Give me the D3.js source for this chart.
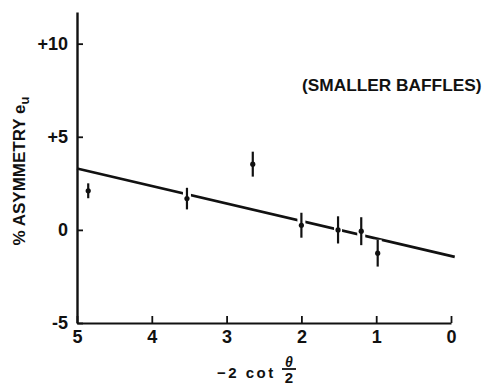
<!DOCTYPE html>
<html><head><meta charset="utf-8">
<script src="https://cdn.jsdelivr.net/npm/d3@7"></script>
<style>
html,body{margin:0;padding:0;background:#fff;}
svg{display:block;}
text{font-family:"Liberation Sans",Arial,sans-serif;fill:#111;}
</style></head>
<body>
<script>
// data
const xVals = [4.85, 3.53, 2.65, 2.0, 1.51, 1.2, 0.98];
const yVals = [2.1, 1.68, 3.53, 0.25, 0.0, -0.07, -1.25];
const yErr  = [0.4, 0.58, 0.67, 0.67, 0.73, 0.75, 0.72];
const fitX = [5, -0.05];
const fitY = [3.3, -1.45];
const xTicks = [5, 4, 3, 2, 1, 0];
const xTickLabels = ["5", "4", "3", "2", "1", "0"];
const yTicks = [10, 5, 0, -5];
const yTickLabels = ["+10", "+5", "0", "-5"];

const W = 484, H = 388;
const svg = d3.select("body").append("svg").attr("width", W).attr("height", H);
const x = d3.scaleLinear().domain([5, 0]).range([77, 451]);
const y = d3.scaleLinear().domain([-5, 11.7]).range([323, 12]);
const ink = "#111";

// fit line
const line = d3.line().x(d => x(d[0])).y(d => y(d[1]));
svg.append("path").datum(fitX.map((v, i) => [v, fitY[i]]))
  .attr("d", line).attr("fill", "none").attr("stroke", ink).attr("stroke-width", 2.6);

const pts = xVals.map((v, i) => ({x: v, y: yVals[i], e: yErr[i]}));
// white gaps behind error bars
svg.selectAll(".gap").data(pts).enter().append("line")
  .attr("x1", d => x(d.x)).attr("x2", d => x(d.x))
  .attr("y1", d => y(d.y + d.e)).attr("y2", d => y(d.y - d.e))
  .attr("stroke", "#fff").attr("stroke-width", 8);
svg.selectAll(".eb").data(pts).enter().append("line")
  .attr("x1", d => x(d.x)).attr("x2", d => x(d.x))
  .attr("y1", d => y(d.y + d.e)).attr("y2", d => y(d.y - d.e))
  .attr("stroke", ink).attr("stroke-width", 2.2);
svg.selectAll(".pt").data(pts).enter().append("circle")
  .attr("cx", d => x(d.x)).attr("cy", d => y(d.y)).attr("r", 2.6).attr("fill", ink);

// axes
const xAxis = d3.axisBottom(x).tickValues(xTicks).tickFormat((d, i) => xTickLabels[i])
  .tickSizeInner(-7).tickSizeOuter(0).tickPadding(7);
const gx = svg.append("g").attr("transform", `translate(0,${y(-5)})`).call(xAxis);
gx.select(".domain").attr("stroke", ink).attr("stroke-width", 2);
gx.selectAll(".tick line").attr("stroke", ink).attr("stroke-width", 1.8);
gx.selectAll(".tick text").attr("font-size", 18).attr("font-weight", "bold").attr("fill", ink).attr("dy", "0.71em");

const yAxis = d3.axisLeft(y).tickValues(yTicks).tickFormat((d, i) => yTickLabels[i])
  .tickSizeInner(-6).tickSizeOuter(0).tickPadding(9);
const gy = svg.append("g").attr("transform", `translate(${x(5)},0)`).call(yAxis);
gy.select(".domain").attr("stroke", ink).attr("stroke-width", 2.4);
gy.selectAll(".tick line").attr("stroke", ink).attr("stroke-width", 1.8);
gy.selectAll(".tick text").attr("font-size", 18).attr("font-weight", "bold").attr("fill", ink);

// y label
const yl = svg.append("text").attr("transform", "translate(25,171) rotate(-90)")
  .attr("text-anchor", "middle").attr("font-size", 17).attr("font-weight", "bold");
yl.append("tspan").text("% ASYMMETRY e");
yl.append("tspan").attr("font-size", 13).attr("dy", 4).text("u");

// x label
svg.append("text").attr("x", 217).attr("y", 378)
  .attr("font-size", 15).attr("font-weight", "bold").attr("letter-spacing", 2.5).text("\u22122 cot");
svg.append("text").attr("x", 289).attr("y", 367).attr("text-anchor", "middle")
  .attr("font-size", 14).attr("font-weight", "bold").attr("font-style", "italic").text("\u03b8");
svg.append("line").attr("x1", 282).attr("x2", 296).attr("y1", 369).attr("y2", 369)
  .attr("stroke", ink).attr("stroke-width", 1.8);
svg.append("text").attr("x", 289).attr("y", 383).attr("text-anchor", "middle")
  .attr("font-size", 15).attr("font-weight", "bold").text("2");

// annotation
svg.append("text").attr("x", 302).attr("y", 91).attr("font-size", 17.3).attr("font-weight", "bold")
  .text("(SMALLER BAFFLES)");
</script>
</body></html>
